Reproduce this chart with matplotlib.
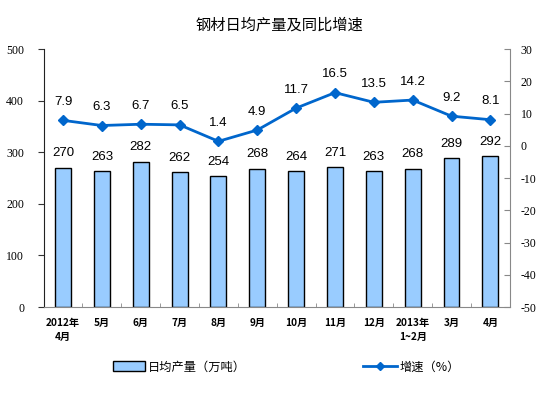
import matplotlib
matplotlib.use("Agg")
import matplotlib.pyplot as plt
import numpy as np
from matplotlib.lines import Line2D
from matplotlib.patches import Patch

plt.rcParams['font.family'] = ['Noto Sans CJK SC', 'DejaVu Sans']

categories = ["2012年\n4月", "5月", "6月", "7月", "8月", "9月", "10月", "11月", "12月", "2013年\n1~2月", "3月", "4月"]
output = [270, 263, 282, 262, 254, 268, 264, 271, 263, 268, 289, 292]
growth = [7.9, 6.3, 6.7, 6.5, 1.4, 4.9, 11.7, 16.5, 13.5, 14.2, 9.2, 8.1]
left_ticks = [0, 100, 200, 300, 400, 500]
right_ticks = [-50, -40, -30, -20, -10, 0, 10, 20, 30]

fig = plt.figure(figsize=(5.59, 3.98), dpi=100)
ax = fig.add_axes([0.078, 0.2286, 0.834, 0.648])
x = np.arange(len(categories))

ax.bar(x, output, width=0.41, color='#99CCFF', edgecolor='black', linewidth=1.0, zorder=2)
ax.set_xlim(-0.5, len(categories) - 0.5)
ax.set_ylim(0, 500)
ax.set_yticks(left_ticks)
ax.set_yticklabels([str(t) for t in left_ticks], family='Liberation Serif', fontsize=8.5)
ax.tick_params(axis='y', direction='out', length=4, color='#333333', pad=10)
ax.set_xticks(x)
ax.set_xticklabels(categories, fontsize=7.3, fontweight='bold', linespacing=1.45)
ax.tick_params(axis='x', length=0, pad=8)
ax.set_xticks(np.arange(-0.5, len(categories), 1), minor=True)
ax.tick_params(axis='x', which='minor', direction='in', length=3, color='#888888')

ax.spines['top'].set_visible(False)
ax.spines['left'].set_color('#222222')
ax.spines['bottom'].set_color('#888888')
ax.spines['right'].set_visible(False)

for xi, v in zip(x, output):
    ax.annotate(str(v), (xi, v), xytext=(0, 6), textcoords='offset points',
                ha='center', va='bottom', family='Liberation Sans', fontsize=9.5)

ax2 = ax.twinx()
ax2.plot(x, growth, color='#0066CC', linewidth=2, marker='D', markersize=5, zorder=3)
ax2.set_ylim(-50, 30)
ax2.set_yticks(right_ticks)
ax2.set_yticklabels([str(t) for t in right_ticks], family='Liberation Serif', fontsize=8.5)
ax2.tick_params(axis='y', direction='in', length=4, color='#888888', pad=8)
ax2.spines['top'].set_visible(False)
ax2.spines['left'].set_visible(False)
ax2.spines['bottom'].set_visible(False)
ax2.spines['right'].set_color('#888888')

for xi, v in zip(x, growth):
    ax2.annotate(f"{v}", (xi, v), xytext=(0, 9), textcoords='offset points',
                 ha='center', va='bottom', family='Liberation Sans', fontsize=9.5)

fig.text(0.5, 0.937, "钢材日均产量及同比增速", ha='center', va='center', fontsize=11)

h1 = Patch(facecolor='#99CCFF', edgecolor='black', linewidth=1.0)
h2 = Line2D([0], [0], color='#0066CC', linewidth=2, marker='D', markersize=4)
fig.legend([h1], ["日均产量（万吨）"], loc='center left', bbox_to_anchor=(0.182, 0.078),
           frameon=False, fontsize=8.8, handlelength=2.6, handleheight=0.9, handletextpad=0.3)
fig.legend([h2], ["增速（%）"], loc='center left', bbox_to_anchor=(0.630, 0.078),
           frameon=False, fontsize=8.8, handlelength=2.8, handletextpad=0.2)

fig.savefig("out.png", dpi=100)
